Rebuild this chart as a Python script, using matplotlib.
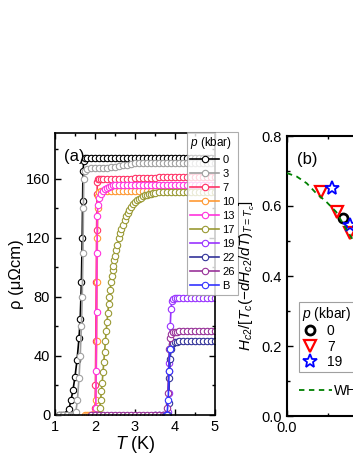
import matplotlib
matplotlib.use("Agg")
import matplotlib.pyplot as plt
from matplotlib.ticker import MultipleLocator

plt.rcParams['font.family'] = ['Liberation Sans', 'DejaVu Sans']
plt.rcParams['mathtext.fontset'] = 'custom'
plt.rcParams['mathtext.rm'] = 'Liberation Sans'
plt.rcParams['mathtext.it'] = 'Liberation Sans:italic'
plt.rcParams['mathtext.bf'] = 'Liberation Sans:bold'

# ---- panel (a): resistivity curves, T in K, rho in uOhm cm ----
plat_a = [1.8, 1.9, 2.0, 2.1, 2.2, 2.3, 2.4, 2.5, 2.6, 2.7, 2.8, 2.9, 3.0, 3.1, 3.2, 3.3,
          3.4, 3.5, 3.6, 3.7, 3.8, 3.9, 4.0, 4.1, 4.2, 4.3, 4.4, 4.5, 4.6, 4.7, 4.8, 4.9, 5.0]

T_0 = [1.10, 1.15, 1.20, 1.25, 1.30, 1.35, 1.40, 1.45, 1.50, 1.55, 1.60, 1.63, 1.66,
       1.68, 1.69, 1.70, 1.72, 1.75] + plat_a
R_0 = [0, 0, 0, 0, 0.5, 4, 10, 17, 26, 37, 52, 65, 90, 120, 145, 165, 172, 174,
       174, 174, 174, 174, 174, 174, 174, 174, 174, 174, 174, 174, 174, 174, 174, 174,
       174, 174, 174, 174, 174, 174, 174, 174, 174, 174, 174, 174, 174, 174, 174, 174, 174]

T_3 = [1.10, 1.20, 1.30, 1.40, 1.45, 1.50, 1.52, 1.56, 1.60, 1.63, 1.66, 1.68, 1.70,
       1.71, 1.72, 1.75] + plat_a
R_3 = [0, 0, 0, 0, 0, 0, 2, 10, 25, 40, 60, 80, 110, 140, 160, 165,
       166.5, 167, 167, 167, 167.5, 167.5, 168, 168, 168.5, 169, 169.5, 170, 170.5, 170.5, 171, 171,
       171, 171, 171, 171, 171, 171, 171, 171, 171, 171, 171, 171, 171, 171, 171, 171, 171]

T_7 = [1.90, 1.95, 1.98, 2.00, 2.01, 2.02, 2.03, 2.04, 2.05, 2.06, 2.08, 2.10, 2.15,
       2.2, 2.3, 2.4, 2.5, 2.6, 2.7, 2.8, 2.9, 3.0, 3.1, 3.2, 3.3, 3.4, 3.5, 3.6, 3.7, 3.8,
       3.9, 4.0, 4.1, 4.2, 4.3, 4.4, 4.5, 4.6, 4.7, 4.8, 4.9, 5.0]
R_7 = [0, 0, 1, 5, 20, 50, 90, 125, 150, 158, 160, 160, 160,
       160, 160, 160, 160, 160, 160, 160, 160, 160.5, 160.5, 160.5, 160.5, 160.5, 160.5, 161, 161, 161,
       161, 161, 161, 161, 161, 161, 161, 161, 161, 161, 161, 161]

T_10 = [1.75, 1.80, 1.85, 1.90, 1.95, 2.00, 2.02, 2.04, 2.05, 2.06, 2.07, 2.08, 2.10, 2.15,
        2.2, 2.3, 2.4, 2.5, 2.6, 2.7, 2.8, 2.9, 3.0, 3.1, 3.2, 3.3, 3.4, 3.5, 3.6, 3.7, 3.8,
        3.9, 4.0, 4.1, 4.2, 4.3, 4.4, 4.5, 4.6, 4.7, 4.8, 4.9, 5.0]
R_10 = [0, 0, 0, 0, 0, 1, 10, 50, 90, 120, 140, 148, 151, 152,
        152, 152, 152, 152, 152, 152, 152, 152, 152, 152, 152, 152, 152, 152, 152, 152, 152,
        152, 152, 152, 152, 152, 152, 152, 152, 152, 152, 152, 152]

T_13 = [2.00, 2.02, 2.03, 2.04, 2.05, 2.06, 2.07, 2.10, 2.15, 2.20, 2.25, 2.30, 2.35, 2.40, 2.45,
        2.5, 2.6, 2.7, 2.8, 2.9, 3.0, 3.1, 3.2, 3.3, 3.4, 3.5, 3.6, 3.7, 3.8,
        3.9, 4.0, 4.1, 4.2, 4.3, 4.4, 4.5, 4.6, 4.7, 4.8, 4.9, 5.0]
R_13 = [0, 5, 30, 70, 110, 135, 142, 147, 150, 152, 153, 154, 154.5, 155, 155.5,
        156, 156, 156, 156, 156, 156, 156, 156, 156, 156, 156, 156, 156, 156,
        156, 156, 156, 156, 156, 156, 156, 156, 156, 156, 156, 156]

T_17 = [2.00, 2.05, 2.10, 2.12, 2.14, 2.16, 2.18, 2.20, 2.22, 2.24, 2.26, 2.28, 2.30, 2.32, 2.34,
        2.36, 2.38, 2.40, 2.42, 2.44, 2.46, 2.48, 2.50, 2.53, 2.56, 2.60, 2.63, 2.66, 2.70, 2.74,
        2.78, 2.82, 2.86, 2.90, 2.95, 3.00, 3.05, 3.10, 3.15, 3.20, 3.25, 3.30, 3.35, 3.40, 3.45,
        3.5, 3.6, 3.7, 3.8, 3.9, 4.0, 4.1, 4.2, 4.3, 4.4, 4.5, 4.6, 4.7, 4.8, 4.9, 5.0]
R_17 = [0, 0, 0, 5, 10, 16, 22, 29, 36, 43, 50, 57, 63, 69, 75,
        80, 85, 90, 94, 98, 101, 105, 108, 112, 115, 120, 123, 126, 129, 132,
        134.5, 137, 139, 141, 143, 144.5, 145.5, 146.5, 147.3, 148, 148.7, 149.2, 149.6, 150, 150.3,
        150.6, 151, 151, 151, 151, 151, 151, 151, 151, 151, 151, 151, 151, 151, 151, 151]

T_19 = [3.50, 3.60, 3.70, 3.80, 3.82, 3.84, 3.86, 3.88, 3.90, 3.92, 3.95, 4.00, 4.05,
        4.1, 4.2, 4.3, 4.4, 4.5, 4.6, 4.7, 4.8, 4.9, 5.0]
R_19 = [0, 0, 0, 0, 2, 15, 35, 60, 72, 77, 78.5, 79, 79,
        79, 79, 79, 79, 79, 79, 79, 79, 79, 79]

T_22 = [3.50, 3.60, 3.70, 3.80, 3.82, 3.84, 3.86, 3.88, 3.90, 3.92, 3.95, 4.00, 4.05,
        4.1, 4.2, 4.3, 4.4, 4.5, 4.6, 4.7, 4.8, 4.9, 5.0]
R_22 = [0, 0, 0, 0, 0, 8, 25, 38, 45, 48, 49, 49.5, 49.5,
        50, 50, 50, 50, 50, 50, 50, 50, 50, 50]

T_26 = [1.90, 2.0, 2.1, 2.2, 2.3, 2.4, 2.5, 2.6, 2.7, 2.8, 2.9, 3.0, 3.1, 3.2, 3.3, 3.4,
        3.5, 3.6, 3.7, 3.75, 3.78, 3.80, 3.82, 3.84, 3.86, 3.88, 3.90, 3.95, 4.00, 4.05,
        4.1, 4.2, 4.3, 4.4, 4.5, 4.6, 4.7, 4.8, 4.9, 5.0]
R_26 = [0, 0, 0, 0, 0, 0, 0, 0, 0, 0, 0, 0, 0, 0, 0, 0,
        0, 0, 0, 0, 0, 5, 15, 30, 45, 52, 55, 56, 56.5, 56.5,
        57, 57, 57, 57, 57, 57, 57, 57, 57, 57]

T_B = [3.78, 3.80, 3.83, 3.85, 3.87]
R_B = [0, 0, 10, 30, 45]

labels_a = ['0', '3', '7', '10', '13', '17', '19', '22', '26', 'B']
colors_a = ['black', '#a0a0a0', '#ff3366', '#ff9933', '#ff33dd', '#999933',
            '#9933ff', '#333399', '#993399', '#3333ff']
data_a = [(T_0, R_0), (T_3, R_3), (T_7, R_7), (T_10, R_10), (T_13, R_13),
          (T_17, R_17), (T_19, R_19), (T_22, R_22), (T_26, R_26), (T_B, R_B)]

# ---- panel (b): reduced upper critical field ----
t_whh = [0.0, 0.06, 0.12, 0.177, 0.24, 0.30, 0.366, 0.42, 0.50, 0.60, 0.70]
h_whh = [0.694, 0.684, 0.665, 0.637, 0.612, 0.583, 0.530, 0.49, 0.42, 0.33, 0.24]

t_p0 = [0.341]
h_p0 = [0.566]
t_p7 = [0.207, 0.305, 0.384]
h_p7 = [0.640, 0.583, 0.523]
t_p19 = [0.274, 0.384]
h_p19 = [0.651, 0.546]

fig = plt.figure(figsize=(3.53, 4.57), dpi=100)

# panel (a)
ax = fig.add_axes([55 / 353, 42 / 457, 160 / 353, 282 / 457])
handles = []
for (T, R), lab, c in zip(data_a, labels_a, colors_a):
    ln, = ax.plot(T, R, '-', color=c, lw=1.2, marker='o', ms=4.6, mfc='white',
                  mec=c, mew=0.8, label=lab)
    handles.append(ln)

ax.set_xlim(1, 5)
ax.set_ylim(0, 191)
ax.xaxis.set_major_locator(MultipleLocator(1))
ax.xaxis.set_minor_locator(MultipleLocator(0.5))
ax.yaxis.set_major_locator(MultipleLocator(40))
ax.yaxis.set_minor_locator(MultipleLocator(20))
ax.tick_params(which='both', direction='in', top=True, right=True, labelsize=10.5, width=1)
ax.tick_params(which='major', length=4)
ax.tick_params(which='minor', length=2.5)
for s in ax.spines.values():
    s.set_linewidth(1.2)
ax.set_xlabel('$T$ (K)', fontsize=13, labelpad=0)
ax.set_ylabel('ρ (μΩcm)', fontsize=12, labelpad=1)
ax.text(0.055, 0.90, '(a)', transform=ax.transAxes, fontsize=12)

leg = ax.legend(handles=handles, title='$p$ (kbar)', fontsize=8, title_fontsize=8.5,
                loc='upper left', bbox_to_anchor=(187 / 353, 1 - 132 / 457),
                bbox_transform=fig.transFigure, frameon=True, fancybox=False,
                edgecolor='#999999', handlelength=2.6, handletextpad=0.3,
                labelspacing=0.36, borderpad=0.3, borderaxespad=0, alignment='left')
leg.get_frame().set_linewidth(0.8)

# panel (b)
bx = fig.add_axes([287 / 353, 41 / 457, 164 / 353, 280 / 457])
p0, = bx.plot(t_p0, h_p0, 'o', ms=6.5, mfc='none', mec='black', mew=2, ls='none', label='0')
p7, = bx.plot(t_p7, h_p7, 'v', ms=8, mfc='none', mec='red', mew=1.6, ls='none', label='7')
p19, = bx.plot(t_p19, h_p19, '*', ms=10, mfc='none', mec='blue', mew=1.3, ls='none', label='19')
whh, = bx.plot(t_whh, h_whh, '--', color='green', lw=1.3, dashes=(3, 2.5), label='WHH', zorder=5)

bx.set_xlim(0, 1)
bx.set_ylim(0, 0.8)
bx.xaxis.set_major_locator(MultipleLocator(0.5))
bx.xaxis.set_minor_locator(MultipleLocator(0.25))
bx.yaxis.set_major_locator(MultipleLocator(0.2))
bx.yaxis.set_minor_locator(MultipleLocator(0.1))
bx.tick_params(which='both', direction='in', top=True, right=True, labelsize=10.5, width=1)
bx.tick_params(which='major', length=4)
bx.tick_params(which='minor', length=2.5)
bx.set_xticks([0.0])
bx.set_xticklabels(['0.0'])
for s in bx.spines.values():
    s.set_linewidth(1.5)
bx.set_ylabel('$H_{c2}/[T_c(-dH_{c2}/dT)_{T=T_c}]$', fontsize=11, labelpad=3)
bx.text(0.06, 0.90, '(b)', transform=bx.transAxes, fontsize=12)

leg_b = bx.legend(handles=[p0, p7, p19], title='$p$ (kbar)', fontsize=10, title_fontsize=10,
                  loc='upper left', bbox_to_anchor=(299 / 353, 1 - 302 / 457),
                  bbox_transform=fig.transFigure, frameon=True, fancybox=False,
                  edgecolor='#888888', handlelength=1.2, handletextpad=0.6,
                  labelspacing=0.1, borderpad=0.2, borderaxespad=0, alignment='left')
leg_b.get_frame().set_linewidth(0.8)
bx.add_artist(leg_b)
bx.legend(handles=[whh], fontsize=10, frameon=False, loc='upper left',
          bbox_to_anchor=(293 / 353, 1 - 378 / 457), bbox_transform=fig.transFigure,
          handlelength=2.4, handletextpad=0.15, borderaxespad=0)

fig.savefig('out.png', dpi=100)
